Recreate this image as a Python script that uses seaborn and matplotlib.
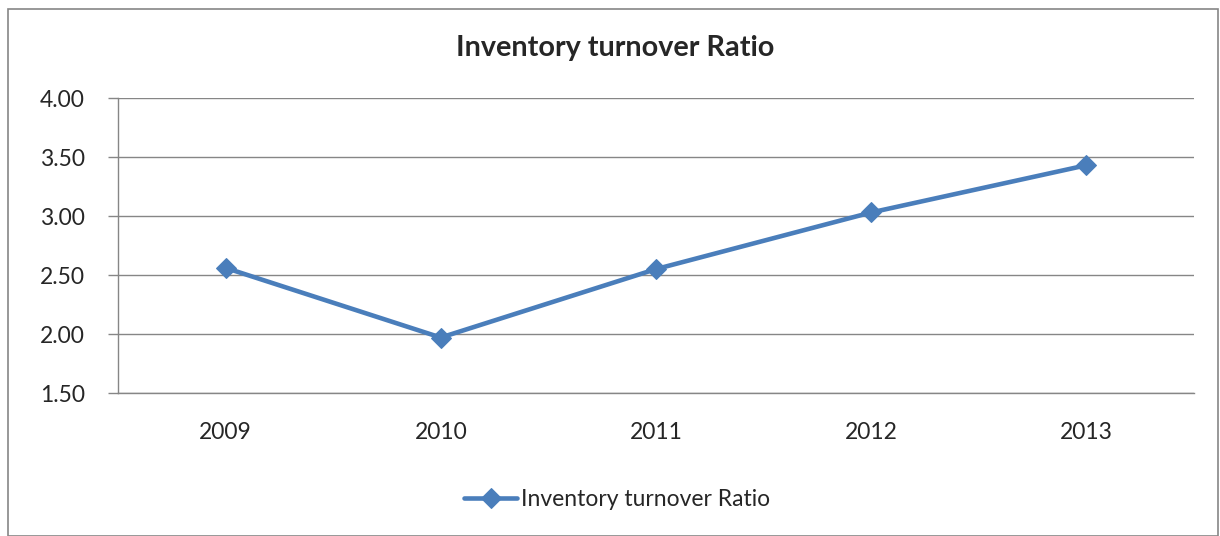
import matplotlib
matplotlib.use("Agg")
import matplotlib.pyplot as plt
import seaborn as sns
import numpy as np
import pandas as pd
from matplotlib.patches import Rectangle

years = ["2009", "2010", "2011", "2012", "2013"]
ratios = [2.56, 1.97, 2.55, 3.03, 3.43]
series_name = "Inventory turnover Ratio"
y_ticks = [1.50, 2.00, 2.50, 3.00, 3.50, 4.00]

sns.set_theme(style="white")
plt.rcParams['font.family'] = ['Lato', 'DejaVu Sans']

W, H = 1220, 536
fig = plt.figure(figsize=(W / 100, H / 100), dpi=100)
ax = fig.add_axes([118 / W, 1 - 393 / H, (1194 - 118) / W, (393 - 98) / H])

df = pd.DataFrame({"pos": np.arange(len(years)), "val": ratios})
color = "#4A7EBB"
sns.lineplot(data=df, x="pos", y="val", ax=ax, color=color, linewidth=3.3,
             marker="D", markersize=10, markeredgecolor=color,
             label=series_name, legend=False)

fs = 16.5
ax.set_xlim(-0.5, len(years) - 0.5)
ax.set_ylim(min(y_ticks), max(y_ticks))
ax.set_yticks(y_ticks)
ax.set_yticklabels([f"{v:.2f}" for v in y_ticks], fontsize=fs)
ax.set_xticks(np.arange(len(years)))
ax.set_xticklabels(years, fontsize=fs)
ax.set_xticks(np.arange(-0.5, len(years)), minor=True)
ax.tick_params(axis="x", which="major", length=0, pad=21)
ax.tick_params(axis="x", which="minor", length=7, width=1, color="#868686", direction="out")
ax.tick_params(axis="y", length=7, width=1, color="#868686", direction="out", pad=17, left=True)
ax.set_xlabel("")
ax.set_ylabel("")
ax.grid(axis="y", color="#868686", linewidth=1)
ax.set_axisbelow(True)
for side in ["top", "right"]:
    ax.spines[side].set_visible(False)
for side in ["left", "bottom"]:
    ax.spines[side].set_color("#868686")
    ax.spines[side].set_linewidth(1)

fig.text(615 / W, 1 - 48 / H, "Inventory turnover Ratio", ha="center", va="center",
         fontsize=20.7, fontweight="bold")

handles, labels = ax.get_legend_handles_labels()
fig.legend(handles, labels, loc="center", bbox_to_anchor=(617 / W, 1 - 500 / H),
           frameon=False, fontsize=fs, handlelength=2.3, handletextpad=0.15)

fig.patches.append(Rectangle((8 / W, 0), (1218 - 8) / W, 1 - 9 / H, transform=fig.transFigure,
                             fill=False, edgecolor="#868686", linewidth=1.2))

fig.savefig("out.png", dpi=100)
